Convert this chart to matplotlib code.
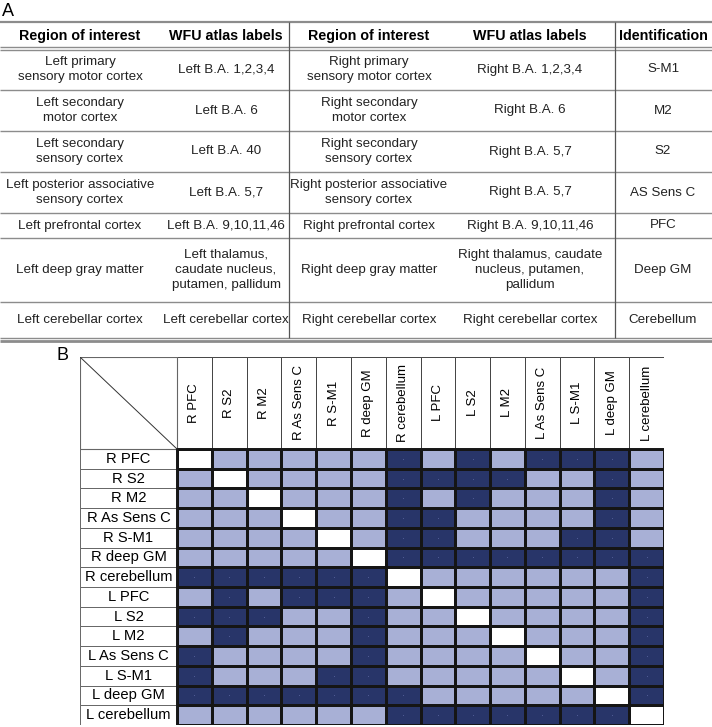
import matplotlib
matplotlib.use("Agg")
import matplotlib.pyplot as plt
from matplotlib.colors import ListedColormap
from matplotlib.patches import Rectangle
import numpy as np

plt.rcParams["font.family"] = ["Liberation Sans", "DejaVu Sans"]

# ---- panel A table ----
head_a = ["Region of interest", "WFU atlas labels", "Region of interest",
          "WFU atlas labels", "Identification"]
left_roi = ["Left primary\nsensory motor cortex", "Left secondary\nmotor cortex",
            "Left secondary\nsensory cortex", "Left posterior associative\nsensory cortex",
            "Left prefrontal cortex", "Left deep gray matter", "Left cerebellar cortex"]
left_wfu = ["Left B.A. 1,2,3,4", "Left B.A. 6", "Left B.A. 40", "Left B.A. 5,7",
            "Left B.A. 9,10,11,46", "Left thalamus,\ncaudate nucleus,\nputamen, pallidum",
            "Left cerebellar cortex"]
right_roi = ["Right primary\nsensory motor cortex", "Right secondary\nmotor cortex",
             "Right secondary\nsensory cortex", "Right posterior associative\nsensory cortex",
             "Right prefrontal cortex", "Right deep gray matter", "Right cerebellar cortex"]
right_wfu = ["Right B.A. 1,2,3,4", "Right B.A. 6", "Right B.A. 5,7", "Right B.A. 5,7",
             "Right B.A. 9,10,11,46", "Right thalamus, caudate\nnucleus, putamen,\npallidum",
             "Right cerebellar cortex"]
ident = ["S-M1", "M2", "S2", "AS Sens C", "PFC", "Deep GM", "Cerebellum"]

# ---- panel B matrix (0 = light, 1 = dark, -1 = diagonal) ----
regions = ["R PFC", "R S2", "R M2", "R As Sens C", "R S-M1", "R deep GM", "R cerebellum",
           "L PFC", "L S2", "L M2", "L As Sens C", "L S-M1", "L deep GM", "L cerebellum"]
conn = np.array([
    [-1, 0, 0, 0, 0, 0, 1, 0, 1, 0, 1, 1, 1, 0],
    [0, -1, 0, 0, 0, 0, 1, 1, 1, 1, 0, 0, 1, 0],
    [0, 0, -1, 0, 0, 0, 1, 0, 1, 0, 0, 0, 1, 0],
    [0, 0, 0, -1, 0, 0, 1, 1, 0, 0, 0, 0, 1, 0],
    [0, 0, 0, 0, -1, 0, 1, 1, 0, 0, 0, 1, 1, 0],
    [0, 0, 0, 0, 0, -1, 1, 1, 1, 1, 1, 1, 1, 1],
    [1, 1, 1, 1, 1, 1, -1, 0, 0, 0, 0, 0, 0, 1],
    [0, 1, 0, 1, 1, 1, 0, -1, 0, 0, 0, 0, 0, 1],
    [1, 1, 1, 0, 0, 1, 0, 0, -1, 0, 0, 0, 0, 1],
    [0, 1, 0, 0, 0, 1, 0, 0, 0, -1, 0, 0, 0, 1],
    [1, 0, 0, 0, 0, 1, 0, 0, 0, 0, -1, 0, 0, 1],
    [1, 0, 0, 0, 1, 1, 0, 0, 0, 0, 0, -1, 0, 1],
    [1, 1, 1, 1, 1, 1, 1, 0, 0, 0, 0, 0, -1, 1],
    [0, 0, 0, 0, 0, 0, 1, 1, 1, 1, 1, 1, 1, -1],
])

LIGHT = "#a8b0d6"
DARK = "#283569"
GRID = "#8c8c8c"

fig = plt.figure(figsize=(7.12, 7.27), dpi=100)
ax = fig.add_axes([0, 0, 1, 1])
ax.set_xlim(0, 712)
ax.set_ylim(727, 0)
ax.axis("off")

ax.text(2, 11, "A", fontsize=13, va="center", ha="left")
ax.text(56, 355, "B", fontsize=13, va="center", ha="left")

col_x = [80, 226, 369, 530, 663]
row_h = [41, 41, 41, 41, 25, 64, 36]
top, head_bot = 22, 49
edges = head_bot + np.concatenate([[0], np.cumsum(row_h)])

for x, h in zip(col_x, head_a):
    ax.text(x, (top + head_bot) / 2 + 0.5, h, ha="center", va="center",
            fontsize=10.3, fontweight="bold")

cols = [left_roi, left_wfu, right_roi, right_wfu, ident]
for i in range(len(ident)):
    yc = (edges[i] + edges[i + 1]) / 2
    for x, c in zip(col_x, cols):
        ax.text(x, yc, c[i], ha="center", va="center", fontsize=9.6,
                linespacing=1.35, color="#222222")

ax.hlines(top, 0, 712, color=GRID, lw=1.6)
ax.hlines([head_bot - 2, head_bot + 1], 0, 712, color=GRID, lw=1.0)
ax.hlines(edges[1:-1], 0, 712, color=GRID, lw=1.0)
ax.hlines(edges[-1], 0, 712, color=GRID, lw=1.0)
ax.hlines(edges[-1] + 3, 0, 712, color=GRID, lw=2.0)
ax.vlines([289, 615], top, edges[-1], color="#555555", lw=0.9)

# ---- panel B ----
n = len(regions)
lab_w = 97 / (487 / n)
hdr_h = 92 / (276 / n)
axm = fig.add_axes([80 / 712, 2 / 727, 584 / 712, 368 / 727])
axm.set_xlim(-lab_w, n)
axm.set_ylim(n, -hdr_h)
axm.axis("off")

cmap = ListedColormap(["white", LIGHT, DARK])
axm.pcolormesh(np.arange(n + 1), np.arange(n + 1), conn, cmap=cmap,
               vmin=-1.5, vmax=1.5, edgecolors="#151515", linewidth=0.9)
dr, dc = np.nonzero(conn == 1)
axm.scatter(dc + 0.5, dr + 0.5, s=0.6, color="#55609a", lw=0)

for i, r in enumerate(regions):
    axm.add_patch(Rectangle((-lab_w, i), lab_w, 1, fc="white", ec="#666666", lw=0.7))
    axm.text(-lab_w / 2, i + 0.5, r, ha="center", va="center", fontsize=10.6)
    axm.add_patch(Rectangle((i, -hdr_h), 1, hdr_h, fc="white", ec="#444444", lw=0.7))
    axm.text(i + 0.5, -hdr_h / 2, r, ha="center", va="center", fontsize=9.5,
             rotation=90)

axm.add_patch(Rectangle((-lab_w, -hdr_h), lab_w, hdr_h, fc="white", ec="#666666", lw=0.8))
axm.plot([-lab_w, 0], [-hdr_h, 0], color="#333333", lw=0.7)
axm.add_patch(Rectangle((0, 0), n, n, fc="none", ec="#151515", lw=1.4))

fig.savefig("out.png", dpi=100)
